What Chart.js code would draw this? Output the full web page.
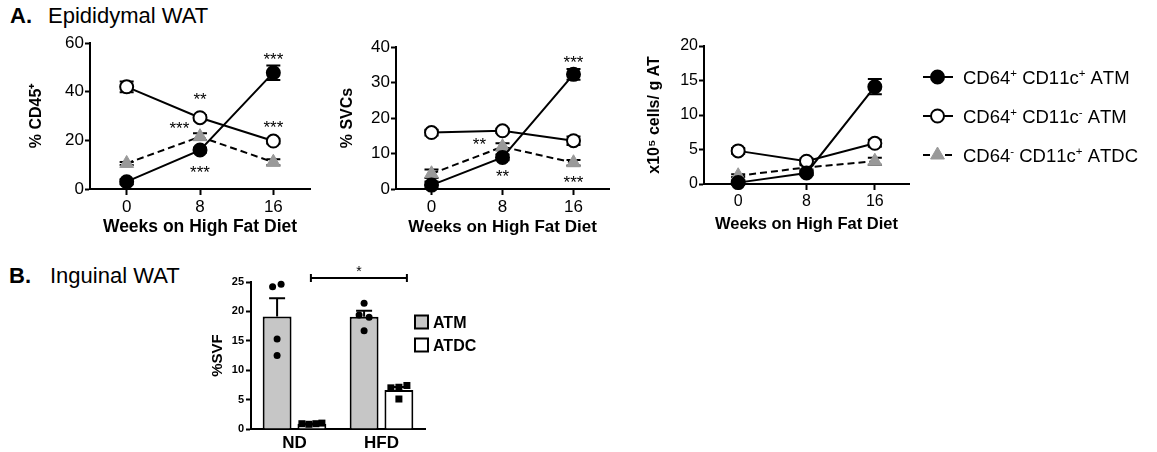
<!DOCTYPE html>
<html>
<head>
<meta charset="utf-8">
<script src="https://cdn.jsdelivr.net/npm/chart.js@4.4.1/dist/chart.umd.min.js"></script>
<style>
  body { margin: 0; background: #fff; }
  #fig { position: relative; width: 1157px; height: 452px; overflow: hidden;
         font-family: 'Liberation Sans', Arial, Helvetica, sans-serif; color: #000; }
  #fig canvas { position: absolute; }
  .head { position: absolute; font-size: 22px; line-height: 26px; white-space: nowrap; }
</style>
</head>
<body>
<div id="fig">
  <span class="head" style="left:10px;top:3px;font-weight:bold">A.</span>
  <span class="head" style="left:48px;top:3px">Epididymal WAT</span>
  <span class="head" style="left:9px;top:263px;font-weight:bold">B.</span>
  <span class="head" style="left:50px;top:263px">Inguinal WAT</span>

  <canvas id="cd45" width="330" height="217" style="left:0;top:28px"></canvas>
  <canvas id="svc" width="310" height="217" style="left:330px;top:28px"></canvas>
  <canvas id="cells" width="517" height="217" style="left:640px;top:28px"></canvas>
  <canvas id="ingWat" width="410" height="197" style="left:150px;top:255px"></canvas>
</div>

<script>
// ---- datos ----
const weeks = [0, 8, 16];
// '^' marca el siguiente caracter como superindice
const seriesNames = ['CD64^+ CD11c^+ ATM', 'CD64^+ CD11c^- ATM', 'CD64^- CD11c^+ ATDC'];

// % CD45+
const cd45Pos = [3, 16, 47.8];
const cd45Neg = [42, 29.3, 19.7];
const cd45Dc = [10.5, 21.5, 11];
const cd45PosErr = [1, 1, 3];
const cd45NegErr = [2.2, 1, 1];
const cd45DcErr = [0.6, 1.4, 1.2];
const cd45Stars = [[16, 55, '***'], [8, 38.6, '**'], [16, 27.1, '***'], [8, 8.6, '***'], [5.75, 26.7, '***']];

// % SVCs
const svcPos = [1.1, 8.9, 32.3];
const svcNeg = [15.9, 16.4, 13.6];
const svcDc = [4.3, 11.9, 7.4];
const svcPosErr = [1, 0.8, 1.5];
const svcNegErr = [0.8, 0.6, 1.2];
const svcDcErr = [1.2, 1, 0.8];
const svcStars = [[16, 36.9, '***'], [5.4, 13.8, '**'], [8, 4.8, '**'], [16, 3.1, '***']];

// x10^5 cells / g AT
const cellsPos = [0.2, 1.6, 14.1];
const cellsNeg = [4.8, 3.3, 5.9];
const cellsDc = [1.2, 2.4, 3.3];
const cellsPosErr = [0.3, 0.3, 1.1];
const cellsNegErr = [0.4, 0.4, 0.5];
const cellsDcErr = [0.2, 0.3, 0.5];

// Inguinal WAT
const groups = ['ND', 'HFD'];
const barNames = ['ATM', 'ATDC'];
const atmMean = [19.15, 19.1];
const atmSem = [3.1, 1.0];
const atdcMean = [0.9, 6.65];
const atdcSem = [0.05, 0.5];
const atmDots = [[24.2, 24.6, 15.3, 12.5], [21.4, 19.4, 19.0, 16.7]];
const atdcDots = [[0.9, 0.8, 0.9, 1.0], [7.0, 7.1, 7.4, 5.1]];
const sigLevel = 25.7;

// ---- estilos ----
const FONT = "'Liberation Sans', Arial, Helvetica, sans-serif";
Chart.defaults.font.family = FONT;
Chart.defaults.color = '#000';
Chart.defaults.animation = false;

const atmJitter = [[-4.5, 4, 0, 0], [0, -5, 5, 0]];
const atdcJitter = [[-10, -3, 4, 10], [-8, 0, 8, 0]];

const filledStyle = { borderColor: '#000', borderWidth: 2, pointStyle: 'circle', pointRadius: 6.5,
  pointBackgroundColor: '#000', pointBorderColor: '#000', pointBorderWidth: 2 };
const openStyle = { borderColor: '#000', borderWidth: 2, pointStyle: 'circle', pointRadius: 6.5,
  pointBackgroundColor: '#fff', pointBorderColor: '#000', pointBorderWidth: 2 };
const dcStyle = { borderColor: '#000', borderWidth: 2, borderDash: [7, 4], pointStyle: 'triangle', pointRadius: 8,
  pointBackgroundColor: '#999', pointBorderColor: '#999', pointBorderWidth: 1 };

function toUnicode(s) {
  return s.replace(/\^\+/g, '\u207A').replace(/\^-/g, '\u207B');
}

function drawRich(ctx, text, x, y, size, weight) {
  let cx = x;
  ctx.textBaseline = 'alphabetic';
  ctx.textAlign = 'left';
  for (let i = 0; i < text.length; i++) {
    let ch = text[i];
    let sup = false;
    if (ch === '^') { ch = text[++i]; sup = true; }
    ctx.font = `${weight} ${sup ? size * 0.62 : size}px ${FONT}`;
    ctx.fillText(ch, cx, sup ? y - size * 0.36 : y);
    cx += ctx.measureText(ch).width;
  }
}

// barras de error (SEM) en todas las series
const errorBars = {
  id: 'errorBars',
  beforeDatasetsDraw(chart) {
    const ctx = chart.ctx;
    const y = chart.scales.y;
    ctx.save();
    ctx.strokeStyle = '#000';
    ctx.lineWidth = 2;
    chart.data.datasets.forEach((ds, i) => {
      if (!ds.sem) return;
      chart.getDatasetMeta(i).data.forEach((pt, j) => {
        const v = ds.data[j].y;
        const top = y.getPixelForValue(v + ds.sem[j]);
        const bot = y.getPixelForValue(v - ds.sem[j]);
        ctx.beginPath();
        ctx.moveTo(pt.x, top); ctx.lineTo(pt.x, bot);
        ctx.moveTo(pt.x - 7, top); ctx.lineTo(pt.x + 7, top);
        ctx.moveTo(pt.x - 7, bot); ctx.lineTo(pt.x + 7, bot);
        ctx.stroke();
      });
    });
    ctx.restore();
  }
};

function starPlugin(stars) {
  return {
    id: 'stars',
    afterDatasetsDraw(chart) {
      const ctx = chart.ctx;
      const fs = 17;
      ctx.save();
      ctx.fillStyle = '#000';
      ctx.font = `${fs}px ${FONT}`;
      ctx.textAlign = 'center';
      ctx.textBaseline = 'alphabetic';
      stars.forEach(([w, v, t]) => {
        ctx.fillText(t, chart.scales.x.getPixelForValue(w), chart.scales.y.getPixelForValue(v) + fs * 0.575);
      });
      ctx.restore();
    }
  };
}

const lineLegend = {
  id: 'lineLegend',
  afterDraw(chart) {
    const ctx = chart.ctx;
    const rows = [49, 88, 127];
    const styles = [filledStyle, openStyle, dcStyle];
    ctx.save();
    rows.forEach((ry, i) => {
      const st = styles[i];
      ctx.strokeStyle = '#000';
      ctx.lineWidth = 2;
      ctx.setLineDash(st.borderDash || []);
      ctx.beginPath();
      ctx.moveTo(283, ry); ctx.lineTo(313, ry);
      ctx.stroke();
      ctx.setLineDash([]);
      ctx.fillStyle = st.pointBackgroundColor;
      ctx.strokeStyle = st.pointBorderColor;
      ctx.lineWidth = st.pointBorderWidth;
      Chart.helpers.drawPoint(ctx, { pointStyle: st.pointStyle, radius: st.pointRadius,
        borderWidth: st.pointBorderWidth, rotation: 0 }, 297.5, ry);
      ctx.fillStyle = '#000';
      drawRich(ctx, seriesNames[i], 323, ry + 18.5 * 0.36, 18.5, 'normal');
    });
    ctx.restore();
  }
};

function axisLook(tickLen) {
  return {
    grid: { drawOnChartArea: false, tickLength: tickLen, tickWidth: 2, tickColor: '#000' },
    border: { color: '#000', width: 2 }
  };
}

function lineChart(id, p) {
  return new Chart(document.getElementById(id), {
    type: 'line',
    data: {
      datasets: [
        { label: toUnicode(seriesNames[0]), data: weeks.map((w, i) => ({ x: w, y: p.pos[i] })), sem: p.posErr, clip: false, ...filledStyle },
        { label: toUnicode(seriesNames[1]), data: weeks.map((w, i) => ({ x: w, y: p.neg[i] })), sem: p.negErr, clip: false, ...openStyle },
        { label: toUnicode(seriesNames[2]), data: weeks.map((w, i) => ({ x: w, y: p.dc[i] })), sem: p.dcErr, clip: false, ...dcStyle }
      ]
    },
    options: {
      responsive: false,
      animation: false,
      layout: { padding: p.pad },
      plugins: { legend: { display: false }, tooltip: { enabled: false } },
      scales: {
        x: {
          type: 'linear', min: -4, max: 20,
          afterBuildTicks: s => { s.ticks = weeks.map(value => ({ value })); },
          afterFit: s => { s.height = p.xh; },
          ...axisLook(6),
          ticks: { font: { size: p.tick }, padding: 2, maxRotation: 0 },
          title: { display: true, text: 'Weeks on High Fat Diet', font: { size: p.xt, weight: 'bold' },
                   padding: { top: 0, bottom: p.xtp } }
        },
        y: {
          min: 0, max: p.ymax,
          afterFit: s => { s.width = p.yw; },
          ...axisLook(5),
          ticks: { stepSize: p.step, font: { size: p.tick }, padding: 1 },
          title: { display: true, text: p.ytitle, font: { size: 16, weight: 'bold' },
                   padding: { top: p.ytp, bottom: 0 } }
        }
      }
    },
    plugins: [errorBars, starPlugin(p.stars || []), ...(p.extra || [])]
  });
}

lineChart('cd45', {
  pos: cd45Pos, neg: cd45Neg, dc: cd45Dc, posErr: cd45PosErr, negErr: cd45NegErr, dcErr: cd45DcErr,
  stars: cd45Stars, ymax: 60, step: 20, ytitle: '% CD45\u207A',
  pad: { top: 15, right: 20, bottom: 0, left: 0 }, yw: 90, xh: 56, ytp: 27, xtp: 7.5, xt: 17.5, tick: 17
});

lineChart('svc', {
  pos: svcPos, neg: svcNeg, dc: svcDc, posErr: svcPosErr, negErr: svcNegErr, dcErr: svcDcErr,
  stars: svcStars, ymax: 40, step: 10, ytitle: '% SVCs',
  pad: { top: 19, right: 31, bottom: 0, left: 0 }, yw: 66, xh: 56, ytp: 8.4, xtp: 7.8, xt: 17, tick: 17
});

lineChart('cells', {
  pos: cellsPos, neg: cellsNeg, dc: cellsDc, posErr: cellsPosErr, negErr: cellsNegErr, dcErr: cellsDcErr,
  ymax: 20, step: 5, ytitle: 'x10\u2075 cells/ g AT',
  pad: { top: 18, right: 248, bottom: 0, left: 0 }, yw: 64, xh: 61, ytp: 5.4, xtp: 11, xt: 16.5, tick: 16,
  extra: [lineLegend]
});

// ---- panel B ----
const barExtras = {
  id: 'barExtras',
  afterDatasetsDraw(chart) {
    const ctx = chart.ctx;
    const y = chart.scales.y;
    ctx.save();
    ctx.strokeStyle = '#000';
    ctx.fillStyle = '#000';
    ctx.lineWidth = 2;
    // SEM hacia arriba
    chart.data.datasets.forEach((ds, i) => {
      chart.getDatasetMeta(i).data.forEach((bar, j) => {
        const top = y.getPixelForValue(ds.data[j] + ds.sem[j]);
        const base = y.getPixelForValue(ds.data[j]);
        ctx.beginPath();
        ctx.moveTo(bar.x, base); ctx.lineTo(bar.x, top);
        ctx.moveTo(bar.x - 8, top); ctx.lineTo(bar.x + 8, top);
        ctx.stroke();
      });
    });
    // puntos individuales
    chart.data.datasets.forEach((ds, i) => {
      const jit = i === 0 ? atmJitter : atdcJitter;
      chart.getDatasetMeta(i).data.forEach((bar, j) => {
        ds.dots[j].forEach((v, k) => {
          const px = bar.x + jit[j][k];
          const py = y.getPixelForValue(v);
          ctx.beginPath();
          if (i === 0) { ctx.arc(px, py, 3.5, 0, Math.PI * 2); ctx.fill(); }
          else { ctx.fillRect(px - 3.5, py - 3.5, 7, 7); }
        });
      });
    });
    // corchete de significancia
    const m = chart.getDatasetMeta(1).data;
    const x1 = m[0].x - 1, x2 = m[1].x + 8;
    const by = y.getPixelForValue(sigLevel);
    ctx.beginPath();
    ctx.moveTo(x1, by); ctx.lineTo(x2, by);
    ctx.moveTo(x1, by - 4); ctx.lineTo(x1, by + 4);
    ctx.moveTo(x2, by - 4); ctx.lineTo(x2, by + 4);
    ctx.stroke();
    ctx.font = `14px ${FONT}`;
    ctx.textAlign = 'center';
    ctx.textBaseline = 'alphabetic';
    ctx.fillText('*', (x1 + x2) / 2, by - 10 + 14 * 0.575);
    // leyenda
    const rows = [67, 90];
    chart.data.datasets.forEach((ds, i) => {
      ctx.fillStyle = ds.backgroundColor;
      ctx.fillRect(265, rows[i] - 6.5, 13, 13);
      ctx.strokeRect(265, rows[i] - 6.5, 13, 13);
      ctx.fillStyle = '#000';
      ctx.font = `bold 16px ${FONT}`;
      ctx.textAlign = 'left';
      ctx.fillText(ds.label, 283, rows[i] + 16 * 0.36);
    });
    ctx.restore();
  }
};

new Chart(document.getElementById('ingWat'), {
  type: 'bar',
  data: {
    labels: groups,
    datasets: [
      { label: barNames[0], data: atmMean, sem: atmSem, dots: atmDots, backgroundColor: '#c6c6c6',
        borderColor: '#000', borderWidth: 2, categoryPercentage: 0.8, barPercentage: 0.83 },
      { label: barNames[1], data: atdcMean, sem: atdcSem, dots: atdcDots, backgroundColor: '#fff',
        borderColor: '#000', borderWidth: 2, categoryPercentage: 0.8, barPercentage: 0.83 }
    ]
  },
  options: {
    responsive: false,
    animation: false,
    layout: { padding: { top: 27, right: 135, bottom: 0, left: 0 } },
    plugins: { legend: { display: false }, tooltip: { enabled: false } },
    scales: {
      x: {
        afterFit: s => { s.height = 23; },
        grid: { display: false, drawTicks: false },
        border: { color: '#000', width: 2 },
        ticks: { font: { size: 17, weight: 'bold' }, padding: 4 }
      },
      y: {
        min: 0, max: 25,
        afterFit: s => { s.width = 101; },
        ...axisLook(5),
        ticks: { stepSize: 5, font: { size: 11, weight: 'bold' }, padding: 2 },
        title: { display: true, text: '%SVF', font: { size: 15, weight: 'bold' }, padding: { top: 59, bottom: 0 } }
      }
    }
  },
  plugins: [barExtras]
});
</script>
</body>
</html>
